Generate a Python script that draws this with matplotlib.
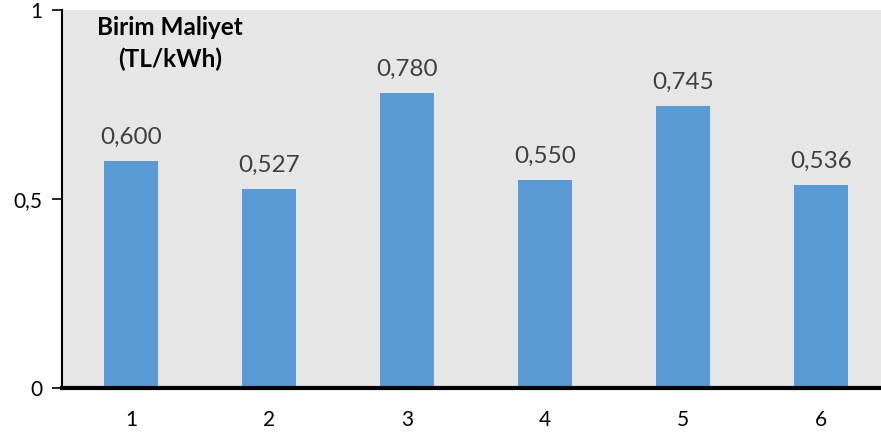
import matplotlib
matplotlib.use("Agg")
import matplotlib.pyplot as plt

categories = ["1", "2", "3", "4", "5", "6"]
values = [0.600, 0.527, 0.780, 0.550, 0.745, 0.536]
value_labels = ["0,600", "0,527", "0,780", "0,550", "0,745", "0,536"]
ytick_values = [0, 0.5, 1]
ytick_labels = ["0", "0,5", "1"]

plt.rcParams["font.family"] = ["Lato", "DejaVu Sans"]

fig = plt.figure(figsize=(8.81, 4.37), dpi=100)
ax = fig.add_axes([62 / 881, 1 - 388 / 437, 828 / 881, 378 / 437])
ax.set_facecolor("#e6e6e6")

x = list(range(len(categories)))
ax.bar(x, values, width=0.39, color="#5b9bd5", zorder=2)

for xi, v, lab in zip(x, values, value_labels):
    ax.text(xi, v + 0.035, lab, ha="center", va="bottom", fontsize=17.5,
            color="#404040")

ax.set_xlim(-0.5, 5.5)
ax.set_ylim(0, 1)
ax.set_xticks(x)
ax.set_xticklabels(categories, fontsize=15)
ax.set_yticks(ytick_values)
ax.set_yticklabels(ytick_labels, fontsize=15)
ax.tick_params(axis="x", length=0, pad=16)
ax.tick_params(axis="y", length=7, width=1.2, direction="out", pad=7)

for side in ("top", "right"):
    ax.spines[side].set_visible(False)
ax.spines["left"].set_linewidth(1.5)
ax.spines["bottom"].set_linewidth(3)

ax.text(0.13, 0.985, "Birim Maliyet\n(TL/kWh)", transform=ax.transAxes,
        ha="center", va="top", fontsize=17.5, fontweight="bold",
        linespacing=1.45, color="black")

fig.savefig("out.png", dpi=100)
